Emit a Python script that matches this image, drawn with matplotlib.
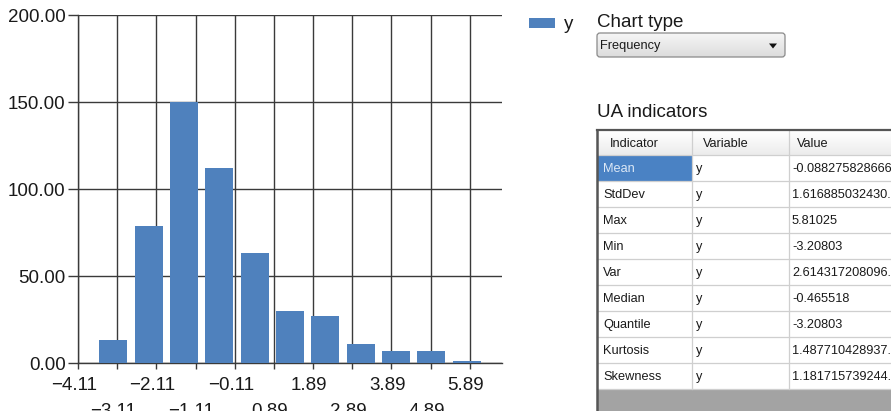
import numpy as np
import matplotlib
matplotlib.use("Agg")
import matplotlib.pyplot as plt
from matplotlib.patches import Rectangle, FancyBboxPatch, Polygon, Patch
from matplotlib.ticker import FixedLocator, FormatStrFormatter
from matplotlib.colors import LinearSegmentedColormap
import matplotlib.transforms as mtransforms

# ---- histogram of y (frequency per bin, bins centred from min to max) ----
y_min = -3.20803
y_max = 5.81025
counts = [13, 79, 150, 112, 63, 30, 27, 11, 7, 7, 1]

major_ticks = [-4.11, -2.11, -0.11, 1.89, 3.89, 5.89]
major_labels = ["\u22124.11", "\u22122.11", "\u22120.11", "1.89", "3.89", "5.89"]
minor_ticks = [-3.11, -1.11, 0.89, 2.89, 4.89]
minor_labels = ["\u22123.11", "\u22121.11", "0.89", "2.89", "4.89"]
y_ticks = [0, 50, 100, 150, 200]

series_name = "y"
chart_type = "Frequency"

# ---- UA indicators table ----
indicators = ["Mean", "StdDev", "Max", "Min", "Var", "Median", "Quantile",
              "Kurtosis", "Skewness"]
variables = ["y", "y", "y", "y", "y", "y", "y", "y", "y"]
values = ["-0.08827582866663...", "1.616885032430...", "5.81025", "-3.20803",
          "2.614317208096...", "-0.465518", "-3.20803", "1.487710428937...",
          "1.181715739244..."]
headers = ["Indicator", "Variable", "Value"]

W, H = 891, 411
BAR = "#4F81BD"
GRID = "#3a3a3a"
TXT = "#1a1a1a"
MAIN_FONT = ["Liberation Sans", "DejaVu Sans"]
CELL_SIZE = 9.2

plt.rcParams["font.family"] = MAIN_FONT

fig = plt.figure(figsize=(W / 100, H / 100), dpi=100)
fig.patch.set_facecolor("white")


def px_axes(x0, y0, x1, y1):
    return [x0 / W, 1 - y1 / H, (x1 - x0) / W, (y1 - y0) / H]


# ---------------- histogram ----------------
ax = fig.add_axes(px_axes(78, 15, 502, 363), zorder=2)
n_bins = len(counts)
bin_w = (y_max - y_min) / (n_bins - 1)
centers = y_min + bin_w * np.arange(n_bins)
ax.bar(centers, counts, width=bin_w * 0.8, color=BAR, zorder=3)

ax.set_xlim(y_min - bin_w, y_max + bin_w)
ax.set_ylim(0, 200)

ax.xaxis.set_major_locator(FixedLocator(major_ticks))
ax.xaxis.set_minor_locator(FixedLocator(minor_ticks))
ax.set_xticks(major_ticks, major_labels)
ax.set_xticks(minor_ticks, minor_labels, minor=True)
ax.set_yticks(y_ticks)
ax.yaxis.set_major_formatter(FormatStrFormatter("%.2f"))

ax.grid(True, which="both", color=GRID, linewidth=1.0, zorder=1)
ax.set_axisbelow(True)
for s in ("top", "right"):
    ax.spines[s].set_visible(False)
for s in ("left", "bottom"):
    ax.spines[s].set_color(GRID)
    ax.spines[s].set_linewidth(1.0)

ax.tick_params(axis="x", which="major", length=4, width=1.0, color=GRID,
               pad=6.3, labelsize=13.5, labelcolor=TXT)
ax.tick_params(axis="x", which="minor", length=4, width=1.0, color=GRID,
               pad=24.8, labelsize=13.5, labelcolor=TXT)
ax.tick_params(axis="y", length=7.5, width=1.0, color=GRID, pad=1.5,
               labelsize=13.5, labelcolor=TXT)

shift = mtransforms.ScaledTranslation(-4 / 100, 0, fig.dpi_scale_trans)
for lab in ax.get_xticklabels(which="both"):
    lab.set_transform(lab.get_transform() + shift)

ax.legend(handles=[Patch(facecolor=BAR, edgecolor="none", label=series_name)],
          loc="upper left", bbox_to_anchor=(520 / W, 1 - 7 / H),
          bbox_transform=fig.transFigure, frameon=False, borderpad=0,
          handlelength=26 / 18.75, handleheight=8 / 18.75,
          handletextpad=9 / 18.75, fontsize=13.5, labelcolor=TXT)

# ---------------- side panel ----------------
ui = fig.add_axes([0, 0, 1, 1], zorder=1)
ui.set_axis_off()
ui.patch.set_alpha(0)

# "Chart type" selector
ui.text(597, 27, "Chart type", fontsize=13.5, color=TXT, va="baseline",
        ha="left")
box = FancyBboxPatch((597, 33), 188, 24,
                     boxstyle="round,pad=0,rounding_size=3",
                     facecolor="none", edgecolor="#8a8a8a", linewidth=0.9,
                     zorder=3)
ui.add_patch(box)
grad_cmap = LinearSegmentedColormap.from_list("btn", ["#f6f6f6", "#dcdcdc"])
gim = ui.imshow(np.linspace(0, 1, 50).reshape(-1, 1), cmap=grad_cmap,
                extent=(597, 785, 57, 33), aspect="auto", zorder=2)
gim.set_clip_path(box)
ui.text(600, 45.5, chart_type, fontsize=CELL_SIZE, color=TXT, va="center",
        ha="left", zorder=4)
ui.add_patch(Polygon([(769, 43.5), (777, 43.5), (773, 48.5)], closed=True,
                     facecolor="#111111", edgecolor="none", zorder=4))

# "UA indicators" table
ui.text(597, 117, "UA indicators", fontsize=13.5, color=TXT,
        va="baseline", ha="left")

tx0, tx1 = 597, 900
col_x = [597, 692, 789]
head_top, head_bot = 130, 155
row_h = 26
n_rows = len(indicators)
tab_bot = head_bot + n_rows * row_h

# header gradient
hcmap = LinearSegmentedColormap.from_list("hdr", ["#ffffff", "#ececec"])
ui.imshow(np.linspace(0, 1, 30).reshape(-1, 1), cmap=hcmap,
          extent=(tx0, tx1, head_bot, head_top), aspect="auto", zorder=1)
# body
ui.add_patch(Rectangle((tx0, head_bot), tx1 - tx0, tab_bot - head_bot,
                       facecolor="white", edgecolor="none", zorder=1))
# grey empty area below the rows
ui.add_patch(Rectangle((tx0, tab_bot), tx1 - tx0, H - tab_bot + 5,
                       facecolor="#a3a3a3", edgecolor="none", zorder=1))
# selected cell
ui.add_patch(Rectangle((col_x[0] + 1, head_bot + 1), col_x[1] - col_x[0] - 1,
                       row_h - 1, facecolor="#4a82c4", edgecolor="none",
                       zorder=2))

# cell lines
for i in range(n_rows + 1):
    yy = head_bot + i * row_h
    ui.plot([tx0, tx1], [yy, yy], color="#cfcfcf", lw=0.9, zorder=2)
for cx in col_x[1:]:
    ui.plot([cx, cx], [head_top, tab_bot], color="#cfcfcf", lw=0.9, zorder=2)
# outer border
ui.plot([tx0, tx1], [head_top, head_top], color="#555555", lw=1.6, zorder=3)
ui.plot([tx0, tx0], [head_top, H + 5], color="#555555", lw=1.8, zorder=3)

# header text
head_x = [610, 703, 797]
for hx, htxt in zip(head_x, headers):
    ui.text(hx, (head_top + head_bot) / 2 + 1, htxt, fontsize=CELL_SIZE,
            color=TXT, va="center", ha="left", zorder=4)

# body text
for i, (ind, var, val) in enumerate(zip(indicators, variables, values)):
    yc = head_bot + i * row_h + row_h / 2 + 1
    ui.text(603, yc, ind, fontsize=CELL_SIZE,
            color="#dce8f6" if i == 0 else TXT, va="center", ha="left",
            zorder=4)
    ui.text(696, yc, var, fontsize=CELL_SIZE, color=TXT,
            va="center", ha="left", zorder=4)
    ui.text(792, yc, val, fontsize=CELL_SIZE, color=TXT,
            va="center", ha="left", zorder=4)

ui.set_xlim(0, W)
ui.set_ylim(H, 0)

fig.savefig("out.png", dpi=100)
